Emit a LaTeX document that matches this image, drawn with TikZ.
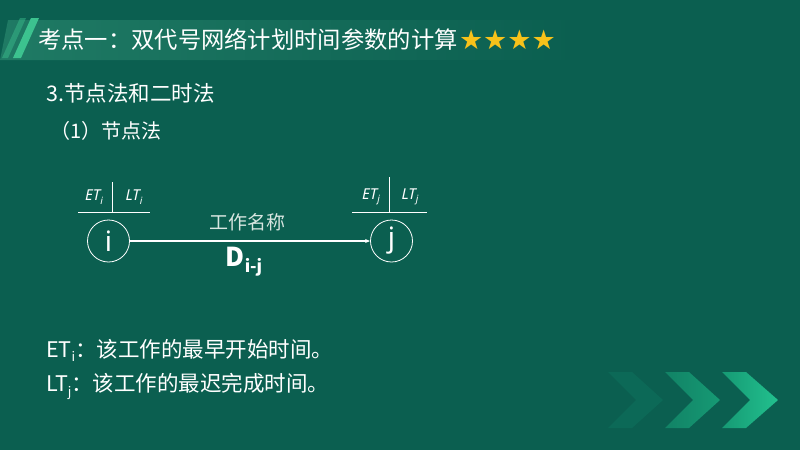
\documentclass[tikz,border=0pt]{standalone}
\usepackage{fontspec}
\newfontfamily\cjk{Noto Sans CJK SC}
\newfontfamily\lat{Noto Sans}
\newfontfamily\sym{DejaVu Sans}
\definecolor{bg}{HTML}{0B5F50}
\definecolor{band}{HTML}{1F7A64}
\definecolor{stripe}{HTML}{3CC28F}
\definecolor{gold}{HTML}{F7C21A}
\definecolor{chevA}{HTML}{22C08E}
\definecolor{chevB}{HTML}{169A74}
\definecolor{chevC}{HTML}{0F7A62}
\definecolor{soft}{HTML}{D8E6E1}
\tikzset{
  txt/.style={text=white, inner sep=0pt, anchor=west, font=\cjk},
  evt/.style={circle, draw=white, line width=0.8pt, minimum size=42pt, inner sep=0pt, text=white, font=\lat\fontsize{28}{28}\selectfont},
  lbl/.style={text=white, inner sep=0pt, font=\lat\itshape\fontsize{15}{15}\selectfont},
  rule/.style={draw=white, line width=0.7pt},
  act/.style={draw=white, line width=1.3pt, -{Stealth[length=5pt,width=4pt]}}
}
\usetikzlibrary{arrows.meta}
\begin{document}
\begin{tikzpicture}[x=1pt,y=-1pt]
\fill[bg] (0,0) rectangle (800,450);
\useasboundingbox (0,0) rectangle (800,450);
% faint background arcs
\foreach \r/\o in {620/0.05,660/0.04,700/0.05,740/0.03}{
  \draw[white, opacity=\o, line width=6pt] (1100,460) ++(180:\r) arc[start angle=180, end angle=100, radius=\r];
}
% title band
\shade[left color=band, right color=bg] (8,20) -- (575,20) -- (575,60) -- (0,60) -- cycle;
\fill[stripe, opacity=0.45] (20,18) -- (26,18) -- (8,58) -- (2,58) -- cycle;
\fill[stripe] (31,18) -- (39,18) -- (21,58) -- (13,58) -- cycle;
\node[txt, font=\cjk\fontsize{23.3}{23.3}\selectfont] (title) at (38,40) {考点一：双代号网络计划时间参数的计算};
\node[txt, text=gold, font=\sym\fontsize{27}{27}\selectfont, anchor=west] (stars) at ([xshift=1pt]title.east) {★★★★};
% headings
\node[txt, font=\cjk\fontsize{21.5}{21.5}\selectfont] (h1) at (46,93) {3.节点法和二时法};
\node[txt, font=\cjk\fontsize{20}{20}\selectfont] (h2) at (50,131) {（1）节点法};
% network
\node[evt] (i) at (108.5,241) {i};
\node[evt] (j) at (391.5,241) {j};
\draw[act] (i) -- (j);
\node[text=soft, inner sep=0pt, font=\cjk\fontsize{19}{19}\selectfont] (name) at (247,222) {工作名称};
\node[text=white, inner sep=0pt, font=\cjk\bfseries\fontsize{26}{26}\selectfont] (dur) at (244,262) {D\raisebox{-6pt}{\fontsize{17}{17}\selectfont i-j}};
% time labels above i
\coordinate (ia) at (78,212);
\coordinate (ib) at (150,212);
\coordinate (ic) at (112,182);
\coordinate (id) at (112,212);
\draw[rule] (ia) -- (ib);
\draw[rule] (ic) -- (id);
\node[lbl] (eti) at (94,197) {ET\raisebox{-3.5pt}{\fontsize{10}{10}\selectfont i}};
\node[lbl] (lti) at (134,197) {LT\raisebox{-3.5pt}{\fontsize{10}{10}\selectfont i}};
% time labels above j
\coordinate (ja) at (352,212);
\coordinate (jb) at (427,212);
\coordinate (jc) at (389,177);
\coordinate (jd) at (389,212);
\draw[rule] (ja) -- (jb);
\draw[rule] (jc) -- (jd);
\node[lbl] (etj) at (371,197) {ET\raisebox{-3.5pt}{\fontsize{10}{10}\selectfont j}};
\node[lbl] (ltj) at (410,197) {LT\raisebox{-3.5pt}{\fontsize{10}{10}\selectfont j}};
% definitions
\node[txt, font=\cjk\fontsize{21.5}{21.5}\selectfont] (d1) at (46,350) {ET\raisebox{-4pt}{\fontsize{13}{13}\selectfont i}：该工作的最早开始时间。};
\node[txt, font=\cjk\fontsize{21.5}{21.5}\selectfont] (d2) at (46,386) {LT\raisebox{-5pt}{\fontsize{13}{13}\selectfont j}：该工作的最迟完成时间。};
% chevrons
\fill[chevC, opacity=0.4] (608,372) -- (632,372) -- (663,400) -- (632,428) -- (608,428) -- (636,400) -- cycle;
\shade[left color=chevB!60!bg, right color=chevB] (665,372) -- (689,372) -- (720,400) -- (689,428) -- (665,428) -- (693,400) -- cycle;
\shade[left color=chevB, right color=chevA] (722,372) -- (746,372) -- (778,400) -- (746,428) -- (722,428) -- (750,400) -- cycle;
\end{tikzpicture}
\end{document}
